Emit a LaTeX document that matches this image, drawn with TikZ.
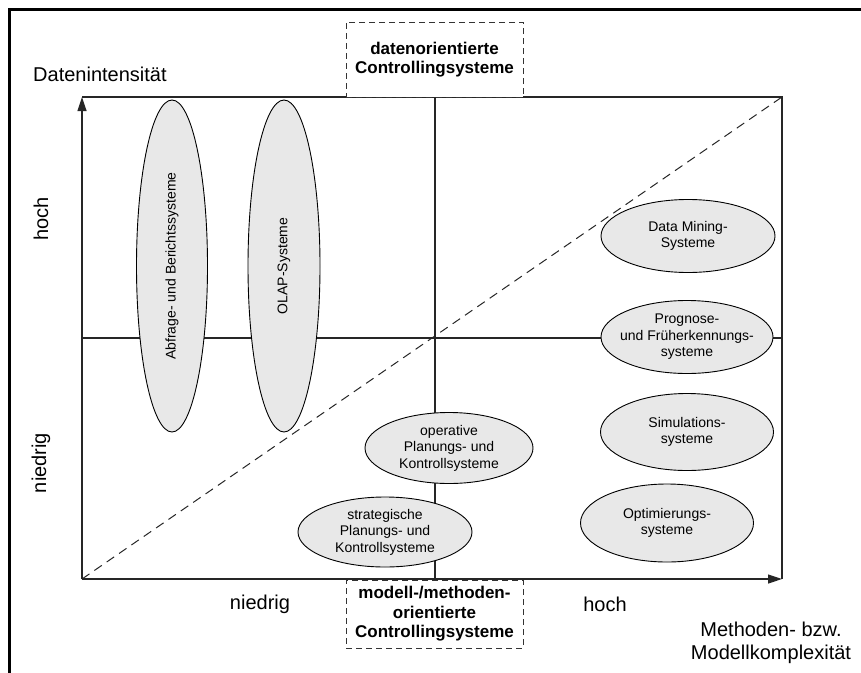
\documentclass[tikz,border=0pt]{standalone}
\usepackage{fontspec}
\setmainfont{Liberation Sans}
\usetikzlibrary{shapes.geometric,arrows.meta}
\tikzset{
  sys/.style={ellipse, draw=black, line width=0.9pt, fill=black!9, inner sep=0pt},
  systext/.style={align=center, inner sep=0pt, font=\fontsize{14}{16.5}\selectfont},
  axislbl/.style={font=\fontsize{20}{23}\selectfont, align=center, inner sep=0pt},
  catbox/.style={draw=black!80, line width=1pt, dash pattern=on 6pt off 4pt, fill=white,
    font=\bfseries\fontsize{17}{19.5}\selectfont, align=center, inner sep=0pt},
  plotline/.style={draw=black!85, line width=1.2pt},
  arr/.style={-{Triangle[length=14pt,width=9pt]}}
}
\begin{document}
\begin{tikzpicture}[x=1pt,y=-1pt]
\path[use as bounding box] (0,0) rectangle (861,672);
% outer frame (clipped by the page on the right and bottom)
\draw[line width=3pt] (875,9) -- (9.5,9) -- (9.5,690);
% plot corners
\coordinate (O) at (82,579);
\coordinate (TL) at (82,97);
\coordinate (TR) at (782,97);
\coordinate (BR) at (782,579);
\coordinate (MT) at (435,97);
\coordinate (MB) at (435,579);
\coordinate (ML) at (82,338);
\coordinate (MR) at (782,338);
% grid
\draw[plotline] (TL) -- (TR) -- (BR);
\draw[plotline] (MT) -- (MB);
\draw[plotline] (ML) -- (MR);
\draw[black!85, line width=1pt, dash pattern=on 9pt off 6pt] (O) -- (TR);
\draw[plotline, arr] (O) -- (TL);
\draw[plotline, arr] (O) -- (BR);
% category boxes
\node[catbox, minimum width=177pt, minimum height=75pt] (dat) at (434.5,59.5)
  {datenorientierte\\Controllingsysteme};
\node[catbox, minimum width=177pt, minimum height=68pt] (mod) at (434.5,614)
  {modell-/methoden-\\orientierte\\Controllingsysteme};
% axis labels
\node[axislbl, anchor=west] (yl) at (33,74) {Datenintensität};
\node[axislbl, rotate=90] (yh) at (41,219) {hoch};
\node[axislbl, rotate=90] (yn) at (41,463) {niedrig};
\node[axislbl] (xn) at (260,604) {niedrig};
\node[axislbl] (xh) at (605,604) {hoch};
\node[axislbl] (xl) at (771,643) {Methoden- bzw.\\Modellkomplexität};
% systems
\node[sys, minimum width=71pt, minimum height=332pt] (abf) at (172,266) {};
\node[systext, rotate=90] (abft) at (abf) {Abfrage- und Berichtssysteme};
\node[sys, minimum width=72pt, minimum height=332pt] (olap) at (284,266) {};
\node[systext, rotate=90] (olapt) at (olap) {OLAP-Systeme};
\node[sys, minimum width=174pt, minimum height=73pt] (dm) at (688,236) {};
\node[systext] (dmt) at (dm) {Data Mining-\\Systeme};
\node[sys, minimum width=172pt, minimum height=73pt] (prog) at (687,337) {};
\node[systext] (progt) at (prog) {Prognose-\\und Früherkennungs-\\systeme};
\node[sys, minimum width=173pt, minimum height=77pt] (sim) at (687,432) {};
\node[systext] (simt) at (sim) {Simulations-\\systeme};
\node[sys, minimum width=173pt, minimum height=78pt] (opt) at (667,523) {};
\node[systext] (optt) at (opt) {Optimierungs-\\systeme};
\node[sys, minimum width=168pt, minimum height=71pt] (ops) at (449,448) {};
\node[systext] (opst) at (ops) {operative\\Planungs- und\\Kontrollsysteme};
\node[sys, minimum width=174pt, minimum height=70pt] (str) at (385,532) {};
\node[systext] (strt) at (str) {strategische\\Planungs- und\\Kontrollsysteme};
\end{tikzpicture}
\end{document}
